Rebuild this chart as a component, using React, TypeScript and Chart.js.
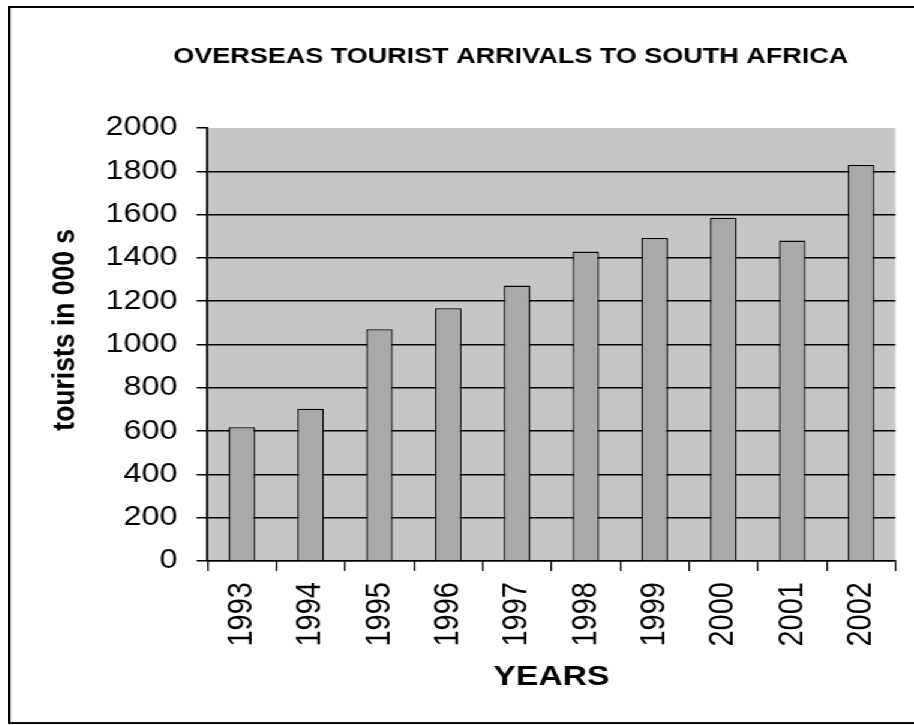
import React, { useEffect, useRef } from "react";
import { Chart, registerables } from "chart.js";

Chart.register(...registerables);

// ---- data ----
const years: string[] = ["1993", "1994", "1995", "1996", "1997", "1998", "1999", "2000", "2001", "2002"];
const arrivals: number[] = [618, 703, 1071, 1168, 1272, 1429, 1492, 1586, 1480, 1829];
const yMin = 0;
const yMax = 2000;
const yStep = 200;
const chartTitle = "OVERSEAS TOURIST ARRIVALS TO SOUTH AFRICA";
const xTitle = "YEARS";
const yTitle = "    tourists in 000 s";

// ---- layout constants ----
const SX = 1.2; // horizontal stretch of the original picture
const CW = 834;
const CH = 714;
const PLOT_LEFT = 164.2;
const PLOT_RIGHT = 737.5;
const PLOT_BOTTOM = 553;
const FONT = "'Liberation Sans', Arial, Helvetica, sans-serif";

export default function App() {
  const ref = useRef<HTMLCanvasElement>(null);

  useEffect(() => {
    const plotBg = {
      id: "plotBg",
      beforeDraw(chart: any) {
        const { ctx, chartArea: a } = chart;
        ctx.save();
        ctx.fillStyle = "#c6c6c6";
        ctx.fillRect(a.left, a.top, a.right - a.left, a.bottom - a.top);
        ctx.restore();
      },
    };

    const chart: any = new Chart(ref.current as HTMLCanvasElement, {
      type: "bar",
      data: {
        labels: years,
        datasets: [
          {
            label: "Overseas tourist arrivals",
            data: arrivals,
            backgroundColor: "#a9a9a9",
            borderColor: "#000",
            borderWidth: 1.3,
            categoryPercentage: 1,
            barPercentage: 0.385,
          },
        ],
      },
      options: {
        responsive: false,
        animation: false,
        devicePixelRatio: 1,
        layout: { padding: 0 },
        plugins: {
          legend: { display: false },
          tooltip: { enabled: false },
          title: {
            display: true,
            fullSize: true,
            align: "center",
            text: chartTitle,
            color: "#000",
            font: { family: FONT, size: 22.5, weight: "bold" },
            padding: { top: 35.2, bottom: 57.8 },
          },
        },
        scales: {
          x: {
            grid: {
              display: true,
              drawOnChartArea: false,
              drawTicks: true,
              offset: true,
              tickLength: 10,
              color: "#000",
              lineWidth: 1.3,
            },
            border: { display: true, color: "#000", width: 1.6 },
            ticks: {
              color: "#000",
              font: { family: FONT, size: 29 },
              minRotation: 90,
              maxRotation: 90,
              autoSkip: false,
              padding: 11,
            },
            title: {
              display: true,
              text: xTitle,
              color: "#000",
              font: { family: FONT, size: 28, weight: "bold" },
              padding: { top: 0, bottom: 27.7 },
            },
            afterFit(scale: any) {
              scale.height = CH - PLOT_BOTTOM;
            },
          },
          y: {
            min: yMin,
            max: yMax,
            grid: {
              color: (c: any) => (c.tick && c.tick.value === yMax ? "rgba(0,0,0,0)" : "#000"),
              tickColor: "#000",
              lineWidth: 1.5,
              tickLength: 9,
              drawTicks: true,
            },
            border: { display: true, color: "#000", width: 1.8 },
            ticks: {
              stepSize: yStep,
              color: "#000",
              font: { family: FONT, size: 27 },
              padding: 16,
              callback: (v: any) => String(v),
            },
            title: {
              display: true,
              text: yTitle,
              color: "#000",
              font: { family: FONT, size: 26.5, weight: "bold" },
              padding: { top: 29.5, bottom: 0 },
            },
            afterFit(scale: any) {
              scale.width = PLOT_LEFT;
            },
          },
          // empty right-hand margin box (keeps the plot clear of the right edge)
          yRightMargin: {
            type: "linear",
            position: "right",
            display: true,
            grid: { display: false, drawTicks: false },
            border: { display: false },
            ticks: { display: false },
            afterFit(scale: any) {
              scale.width = CW - PLOT_RIGHT;
            },
          },
        },
      },
      plugins: [plotBg],
    } as any);

    return () => chart.destroy();
  }, []);

  return (
    <div
      style={{
        position: "fixed",
        left: 0,
        top: 0,
        width: 914,
        height: 725,
        overflow: "hidden",
        background: "#fff",
      }}
    >
      <div
        style={{
          position: "absolute",
          left: 8,
          top: 6,
          boxSizing: "border-box",
          width: CW + 4.5,
          height: CH + 4,
          borderStyle: "solid",
          borderColor: "#000",
          borderWidth: "2px 2px 2px 2.5px",
          transform: `scaleX(${SX})`,
          transformOrigin: "0 0",
        }}
      >
        <canvas ref={ref} width={CW} height={CH} style={{ display: "block" }} />
      </div>
    </div>
  );
}
